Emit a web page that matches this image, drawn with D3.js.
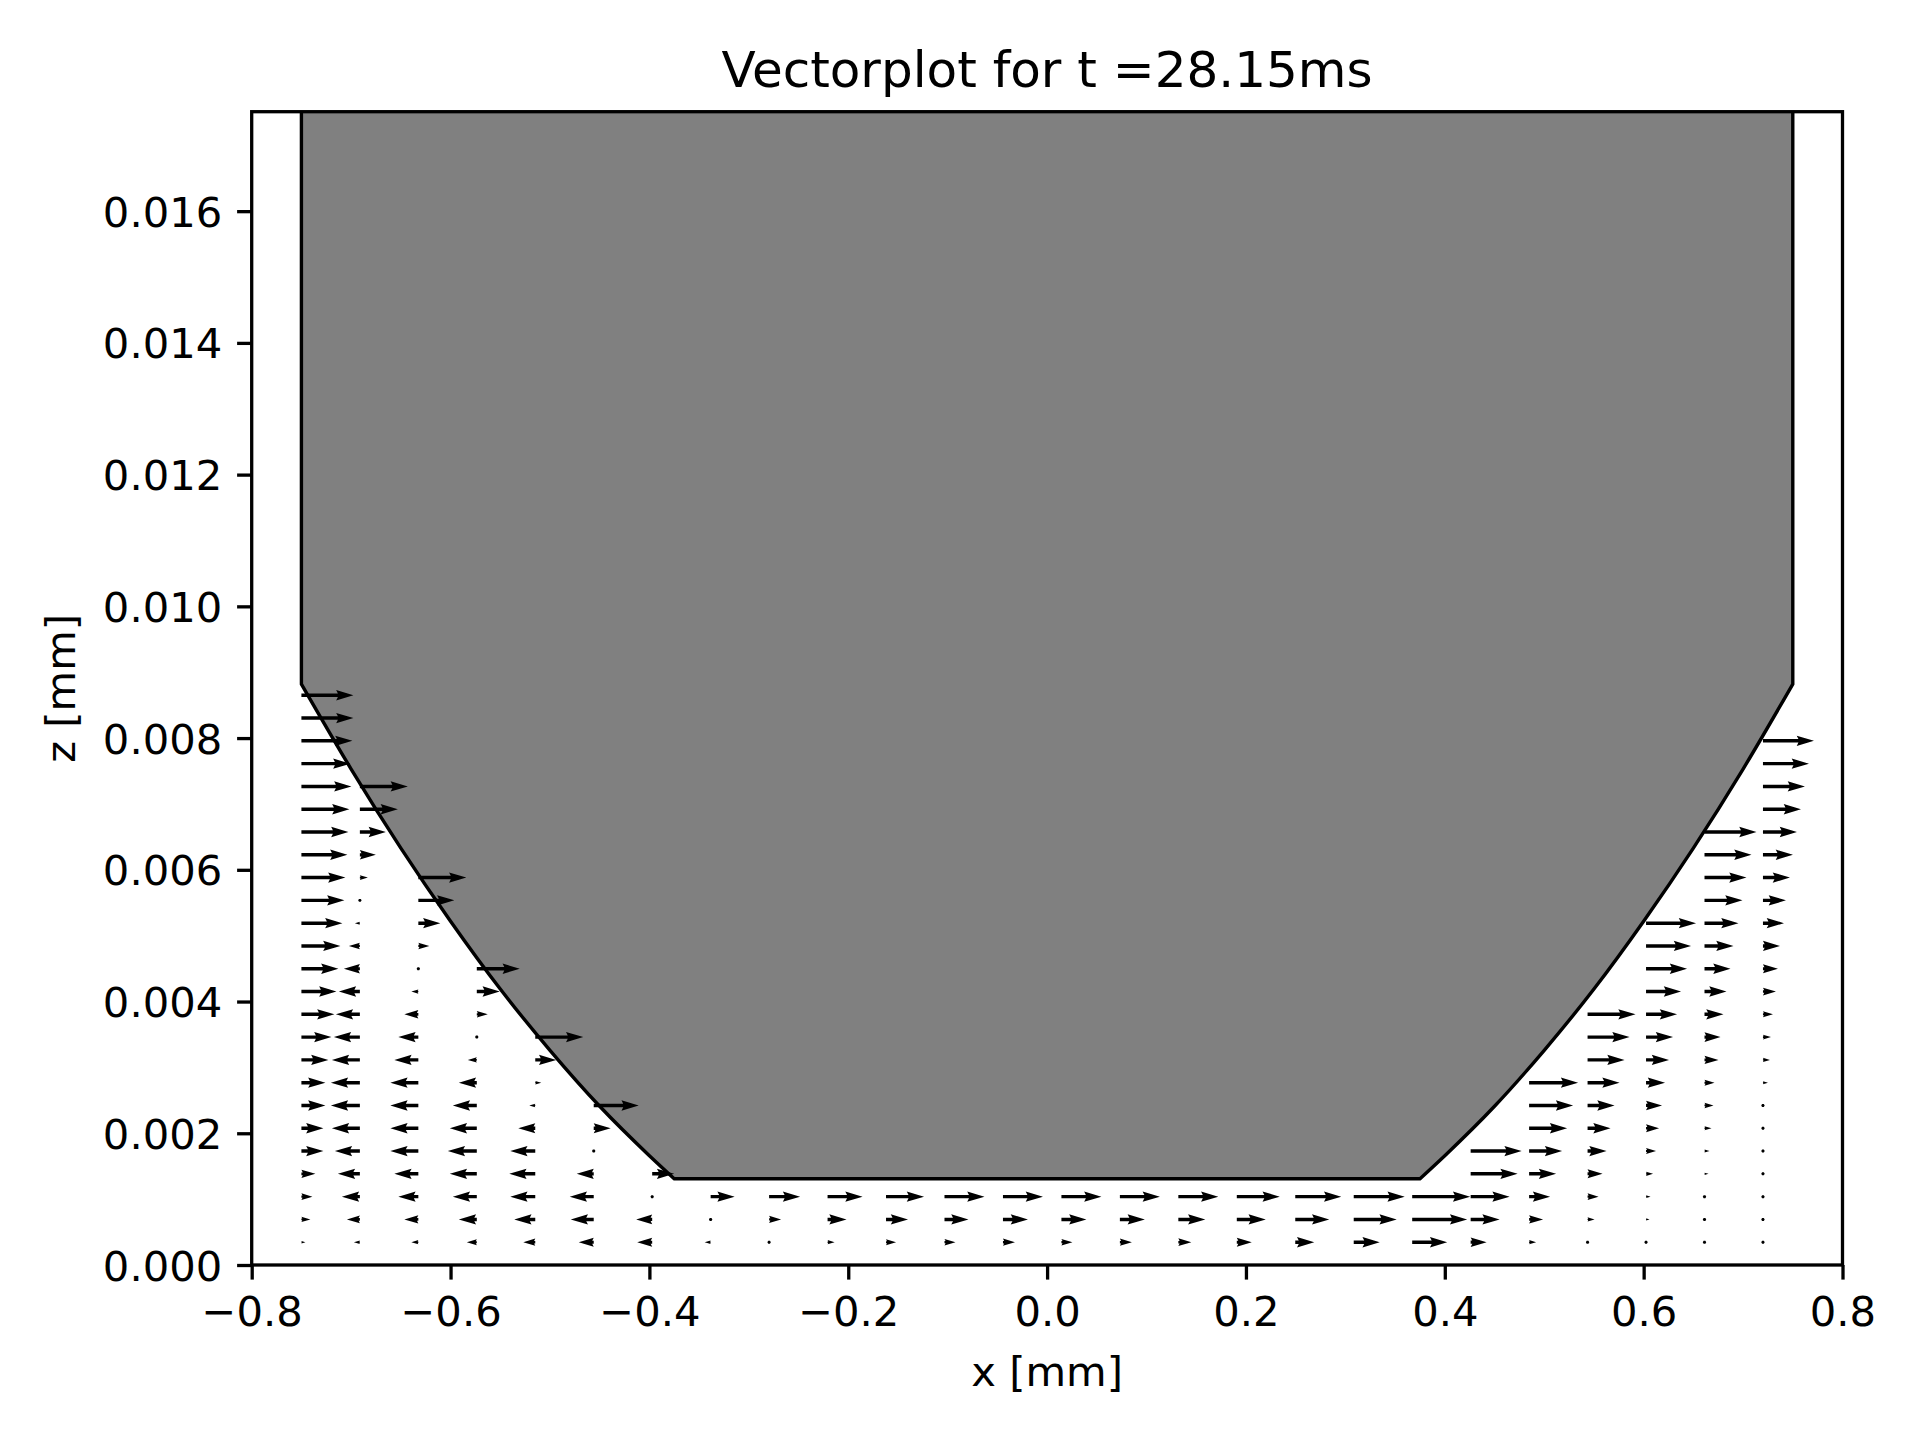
<!DOCTYPE html>
<html>
<head>
<meta charset="utf-8">
<script src="https://cdn.jsdelivr.net/npm/d3@7"></script>
<style>
  html, body { margin: 0; padding: 0; background: #ffffff; }
  svg { display: block; }
  text { font-family: "DejaVu Sans", sans-serif; fill: #000; }
</style>
</head>
<body>
<svg id="chart" width="1920" height="1440"></svg>
<script>
// ---------------- data ----------------
const titleText = "Vectorplot for t =28.15ms";
const xLabelText = "x [mm]";
const zLabelText = "z [mm]";

const xLim = [-0.8, 0.8];
const zLim = [0, 0.01751];
const xTicks = [-0.8, -0.6, -0.4, -0.2, 0.0, 0.2, 0.4, 0.6, 0.8];
const zTicks = [0.000, 0.002, 0.004, 0.006, 0.008, 0.010, 0.012, 0.014, 0.016];

// grid of the vector field (x columns, z rows)
const xCols = [-0.75, -0.6912, -0.6324, -0.5736, -0.5148, -0.456, -0.3972, -0.3384, -0.2796, -0.2208,
               -0.162, -0.1032, -0.0444, 0.0144, 0.0732, 0.132, 0.1908, 0.2496, 0.3084, 0.3672,
               0.426, 0.4848, 0.5436, 0.6024, 0.6612, 0.72];
const zRows = [0.000346, 0.000692, 0.001038, 0.001384, 0.00173, 0.002076, 0.002422, 0.002768, 0.003114, 0.00346,
               0.003806, 0.004152, 0.004498, 0.004844, 0.00519, 0.005536, 0.005882, 0.006228, 0.006574, 0.00692,
               0.007266, 0.007612, 0.007958, 0.008304, 0.00865];

// horizontal velocity u (arbitrary units) per row, null = inside the solid
const _ = null;
const u01 = [0.4, -0.6, -0.7, -1.0, -1.2, -1.5, -1.5, -0.6, 0.1, 0.7, 1.0, 1.1, 1.2, 1.1, 1.2, 1.3, 1.5, 1.9, 2.6, 3.5, 1.6, 0.7, 0.3, 0.15, 0.05, 0.03];
const u02 = [0.9, -1.3, -1.4, -1.8, -2.1, -2.3, -1.6, 0.08, 1.2, 1.9, 2.2, 2.4, 2.5, 2.5, 2.5, 2.7, 2.9, 3.4, 4.3, 5.5, 2.9, 1.4, 0.7, 0.35, 0.15, 0.05];
const u03 = [1.1, -1.8, -2.0, -2.4, -2.5, -2.4, -0.1, 2.4, 3.1, 3.5, 3.8, 4.0, 4.0, 4.0, 4.0, 4.0, 4.3, 4.6, 5.1, 5.8, 3.9, 2.1, 1.1, 0.45, 0.2, 0.08];
const u04 = [1.4, -2.2, -2.4, -2.7, -2.6, -1.7, 2.2, _, _, _, _, _, _, _, _, _, _, _, _, _, 4.7, 2.7, 1.5, 0.7, 0.4, 0.1];
const u05 = [2.2, -2.5, -2.8, -2.9, -2.5, -0.3, _, _, _, _, _, _, _, _, _, _, _, _, _, _, 5.1, 3.3, 1.9, 1.0, 0.5, 0.15];
const u06 = [2.2, -2.8, -2.8, -2.7, -1.7, 1.7, _, _, _, _, _, _, _, _, _, _, _, _, _, _, _, 3.8, 2.3, 1.3, 0.7, 0.2];
const u07 = [2.4, -2.9, -2.8, -2.4, -0.6, 4.5, _, _, _, _, _, _, _, _, _, _, _, _, _, _, _, 4.4, 2.7, 1.6, 0.9, 0.3];
const u08 = [2.4, -2.9, -2.8, -1.8, 0.6, _, _, _, _, _, _, _, _, _, _, _, _, _, _, _, _, 4.9, 3.2, 1.9, 1.0, 0.5];
const u09 = [2.7, -2.8, -2.4, -0.9, 2.1, _, _, _, _, _, _, _, _, _, _, _, _, _, _, _, _, _, 3.7, 2.3, 1.4, 0.7];
const u10 = [3.0, -2.6, -2.0, 0.05, 4.8, _, _, _, _, _, _, _, _, _, _, _, _, _, _, _, _, _, 4.2, 2.7, 1.6, 0.8];
const u11 = [3.3, -2.4, -1.4, 1.1, _, _, _, _, _, _, _, _, _, _, _, _, _, _, _, _, _, _, 4.8, 3.1, 1.9, 1.0];
const u12 = [3.5, -2.1, -0.7, 2.3, _, _, _, _, _, _, _, _, _, _, _, _, _, _, _, _, _, _, _, 3.5, 2.2, 1.3];
const u13 = [3.7, -1.6, 0.05, 4.3, _, _, _, _, _, _, _, _, _, _, _, _, _, _, _, _, _, _, _, 4.1, 2.6, 1.5];
const u14 = [3.9, -1.1, 1.1, _, _, _, _, _, _, _, _, _, _, _, _, _, _, _, _, _, _, _, _, 4.5, 2.9, 1.7];
const u15 = [4.1, -0.5, 2.2, _, _, _, _, _, _, _, _, _, _, _, _, _, _, _, _, _, _, _, _, 5.0, 3.4, 2.1];
const u16 = [4.3, 0.05, 3.6, _, _, _, _, _, _, _, _, _, _, _, _, _, _, _, _, _, _, _, _, _, 3.8, 2.3];
const u17 = [4.4, 0.8, 4.8, _, _, _, _, _, _, _, _, _, _, _, _, _, _, _, _, _, _, _, _, _, 4.2, 2.7];
const u18 = [4.6, 1.6, _, _, _, _, _, _, _, _, _, _, _, _, _, _, _, _, _, _, _, _, _, _, 4.7, 3.0];
const u19 = [4.7, 2.6, _, _, _, _, _, _, _, _, _, _, _, _, _, _, _, _, _, _, _, _, _, _, 5.2, 3.4];
const u20 = [4.8, 3.8, _, _, _, _, _, _, _, _, _, _, _, _, _, _, _, _, _, _, _, _, _, _, _, 3.8];
const u21 = [5.0, 4.8, _, _, _, _, _, _, _, _, _, _, _, _, _, _, _, _, _, _, _, _, _, _, _, 4.2];
const u22 = [4.9, _, _, _, _, _, _, _, _, _, _, _, _, _, _, _, _, _, _, _, _, _, _, _, _, 4.6];
const u23 = [5.1, _, _, _, _, _, _, _, _, _, _, _, _, _, _, _, _, _, _, _, _, _, _, _, _, 5.1];
const u24 = [5.2, _, _, _, _, _, _, _, _, _, _, _, _, _, _, _, _, _, _, _, _, _, _, _, _, _];
const u25 = [5.2, _, _, _, _, _, _, _, _, _, _, _, _, _, _, _, _, _, _, _, _, _, _, _, _, _];

// solid body outline: flank curves (x, z) + top height
const flankLeftX  = [-0.75, -0.70, -0.65, -0.60, -0.55, -0.50, -0.45, -0.40, -0.375];
const flankLeftZ  = [0.00882, 0.00753, 0.00633, 0.00522, 0.00419, 0.00326, 0.00241, 0.00166, 0.00131];
const flankRightX = [0.375, 0.40, 0.45, 0.50, 0.55, 0.60, 0.65, 0.70, 0.75];
const flankRightZ = [0.00131, 0.00166, 0.00241, 0.00326, 0.00419, 0.00522, 0.00633, 0.00753, 0.00882];
const bodyTopZ = 0.0200;

// ---------------- drawing ----------------
(function () {
const uRows = [u01, u02, u03, u04, u05, u06, u07, u08, u09, u10, u11, u12, u13,
               u14, u15, u16, u17, u18, u19, u20, u21, u22, u23, u24, u25];

const svg = d3.select("#chart");
const axLeft = 251.7, axRight = 1842.5, axTop = 111.7, axBottom = 1265;

const x = d3.scaleLinear().domain(xLim).range([axLeft, axRight]);
const y = d3.scaleLinear().domain(zLim).range([axBottom, axTop]);
const uScale = d3.scaleLinear().domain([0, 1]).range([0, 10]); // px per velocity unit
const shaftW = 3.45;

svg.append("rect").attr("width", 1920).attr("height", 1440).attr("fill", "#fff");

svg.append("defs").append("clipPath").attr("id", "axclip")
  .append("rect").attr("x", axLeft).attr("y", axTop)
  .attr("width", axRight - axLeft).attr("height", axBottom - axTop);

const plot = svg.append("g").attr("clip-path", "url(#axclip)");

// solid body: vertical sides, smooth flanks, flat bottom
const smooth = d3.line().x(d => x(d[0])).y(d => y(d[1])).curve(d3.curveMonotoneX);
const leftPts = flankLeftX.map((v, i) => [v, flankLeftZ[i]]);
const rightPts = flankRightX.map((v, i) => [v, flankRightZ[i]]);
const dBody =
  `M${x(flankLeftX[0])},${y(bodyTopZ)}` +
  smooth(leftPts).replace(/^M/, "L") +
  smooth(rightPts).replace(/^M/, "L") +
  `L${x(flankRightX[flankRightX.length - 1])},${y(bodyTopZ)}Z`;
plot.append("path")
  .attr("d", dBody)
  .attr("fill", "#808080")
  .attr("stroke", "#000")
  .attr("stroke-width", 3.4)
  .attr("stroke-linejoin", "miter");

// quiver arrows (matplotlib-style geometry, pivot at tail)
function arrowShape(lenPx, w) {
  const L = lenPx / w;
  let pts;
  if (L < 1) {
    pts = d3.range(6).map(t => [Math.cos(t * Math.PI / 3) * 0.5, Math.sin(t * Math.PI / 3) * 0.5]);
  } else if (L < 5) {
    const s = L / 5;
    pts = [[0, 0.5], [0.5, 0.5], [0, 1.5], [5, 0], [0, -1.5], [0.5, -0.5], [0, -0.5]]
      .map(p => [p[0] * s, p[1] * s]);
  } else {
    pts = [[0, 0.5], [L - 4.5, 0.5], [L - 5, 1.5], [L, 0], [L - 5, -1.5], [L - 4.5, -0.5], [0, -0.5]];
  }
  return pts.map(p => [p[0] * w, p[1] * w]);
}

const vectors = [];
uRows.forEach((row, j) => {
  row.forEach((u, k) => {
    if (u !== null) vectors.push({ x: xCols[k], z: zRows[j], u: u });
  });
});

plot.append("g").selectAll("path").data(vectors).join("path")
  .attr("d", d => {
    const x0 = x(d.x), y0 = y(d.z);
    const dir = d.u < 0 ? -1 : 1;
    const pts = arrowShape(uScale(Math.abs(d.u)), shaftW);
    return "M" + pts.map(p => (x0 + dir * p[0]).toFixed(2) + "," + (y0 - p[1]).toFixed(2)).join("L") + "Z";
  })
  .attr("fill", "#000");

// axes
const tickLen = 14.6;
const xAxis = d3.axisBottom(x).tickValues(xTicks).tickFormat(d3.format(".1f"))
  .tickSizeInner(tickLen).tickSizeOuter(0).tickPadding(14);
const yAxis = d3.axisLeft(y).tickValues(zTicks).tickFormat(d3.format(".3f"))
  .tickSizeInner(tickLen).tickSizeOuter(0).tickPadding(14);

const gx = svg.append("g").attr("transform", `translate(0,${axBottom})`).call(xAxis);
const gy = svg.append("g").attr("transform", `translate(${axLeft},0)`).call(yAxis);
[gx, gy].forEach(g => {
  g.select(".domain").remove();
  g.selectAll(".tick line").attr("stroke", "#000").attr("stroke-width", 3.3);
  g.selectAll(".tick text").attr("font-family", "DejaVu Sans").attr("font-size", 41.7).attr("fill", "#000");
});
gx.selectAll(".tick text").attr("dy", null)
  .attr("dominant-baseline", "alphabetic")
  .attr("y", 1326 - axBottom);
gy.selectAll(".tick text").attr("dy", null).attr("x", -29.5)
  .attr("dominant-baseline", "alphabetic").attr("y", 15);

// spines
svg.append("rect").attr("x", axLeft).attr("y", axTop)
  .attr("width", axRight - axLeft).attr("height", axBottom - axTop)
  .attr("fill", "none").attr("stroke", "#000").attr("stroke-width", 3.3);

// labels
svg.append("text").attr("x", (axLeft + axRight) / 2).attr("y", 87)
  .attr("text-anchor", "middle").attr("font-size", 50).text(titleText);
svg.append("text").attr("x", (axLeft + axRight) / 2).attr("y", 1386)
  .attr("text-anchor", "middle").attr("font-size", 41.7).text(xLabelText);
svg.append("text").attr("transform", `translate(75,${(axTop + axBottom) / 2}) rotate(-90)`)
  .attr("text-anchor", "middle").attr("font-size", 41.7).text(zLabelText);
})();
</script>
</body>
</html>
